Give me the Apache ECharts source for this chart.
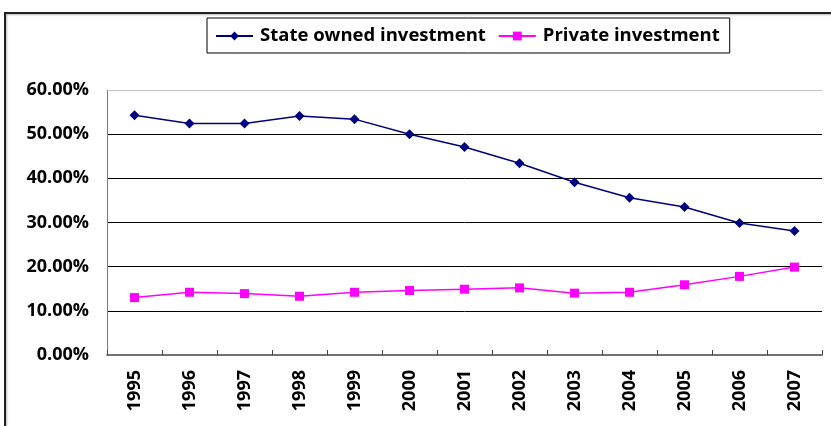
<!DOCTYPE html>
<html><head><meta charset="utf-8">
<script src="https://cdn.jsdelivr.net/npm/echarts@6/dist/echarts.min.js"></script>
<style>html,body{margin:0;padding:0;background:#fff}#c{width:831px;height:426px}</style>
</head><body><div id="c"></div>
<script>
const years = ['1995','1996','1997','1998','1999','2000','2001','2002','2003','2004','2005','2006','2007'];
const stateOwned = [54.3,52.4,52.4,54.1,53.4,50.0,47.1,43.4,39.1,35.6,33.5,29.9,28.1];
const privateInv = [13.0,14.2,13.9,13.3,14.2,14.6,14.9,15.2,14.0,14.2,15.9,17.8,19.9];
const yTicks = [0,10,20,30,40,50,60];

const chart = echarts.init(document.getElementById('c'), null, {renderer:'canvas'});
chart.setOption({
  animation:false,
  graphic:[
    {type:'rect', shape:{x:5,y:13,width:900,height:500}, style:{fill:'none', stroke:'#222', lineWidth:2, shadowBlur:2, shadowColor:'rgba(0,0,0,0.3)', shadowOffsetX:1, shadowOffsetY:1}, z:-1}
  ],
  legend:{
    left:207, top:18, itemGap:12, padding:[7,10,6,8],
    borderColor:'#000', borderWidth:1,
    itemWidth:37, itemHeight:11,
    textStyle:{fontFamily:'Open Sans', fontWeight:'bold', fontSize:18.5, lineHeight:22, color:'#000', padding:[0,0,0,2]},
    data:['State owned investment','Private investment']
  },
  grid:{left:107, right:9, top:90, bottom:71, show:false},
  xAxis:[{
    type:'category', data:years, boundaryGap:true,
    axisLine:{lineStyle:{color:'#444', width:1.5}},
    axisTick:{show:true, inside:true, length:5, lineStyle:{color:'#444'}},
    axisLabel:{rotate:90, fontFamily:'Open Sans', fontWeight:'bold', fontSize:18, color:'#000', margin:15}
  },{
    type:'category', data:years, position:'top',
    axisLine:{lineStyle:{color:'#c4c4c4', width:1}},
    axisTick:{show:false}, axisLabel:{show:false}
  }],
  yAxis:{
    type:'value', min:0, max:60, interval:10,
    axisLine:{show:true, lineStyle:{color:'#777', width:1}},
    axisTick:{show:false},
    splitLine:{showMaxLine:false, showMinLine:false, lineStyle:{color:'#000', width:1}},
    axisLabel:{formatter:v=>v.toFixed(2)+'%', fontFamily:'Open Sans', fontWeight:'bold', fontSize:18, color:'#000', margin:18}
  },
  series:[
    {name:'State owned investment', type:'line', data:stateOwned, symbol:'diamond', symbolSize:10,
     lineStyle:{color:'#000080', width:1.5}, itemStyle:{color:'#000080'}},
    {name:'Private investment', type:'line', data:privateInv, symbol:'rect', symbolSize:9,
     lineStyle:{color:'#FF00FF', width:1.5}, itemStyle:{color:'#FF00FF'}}
  ]
});
</script></body></html>
